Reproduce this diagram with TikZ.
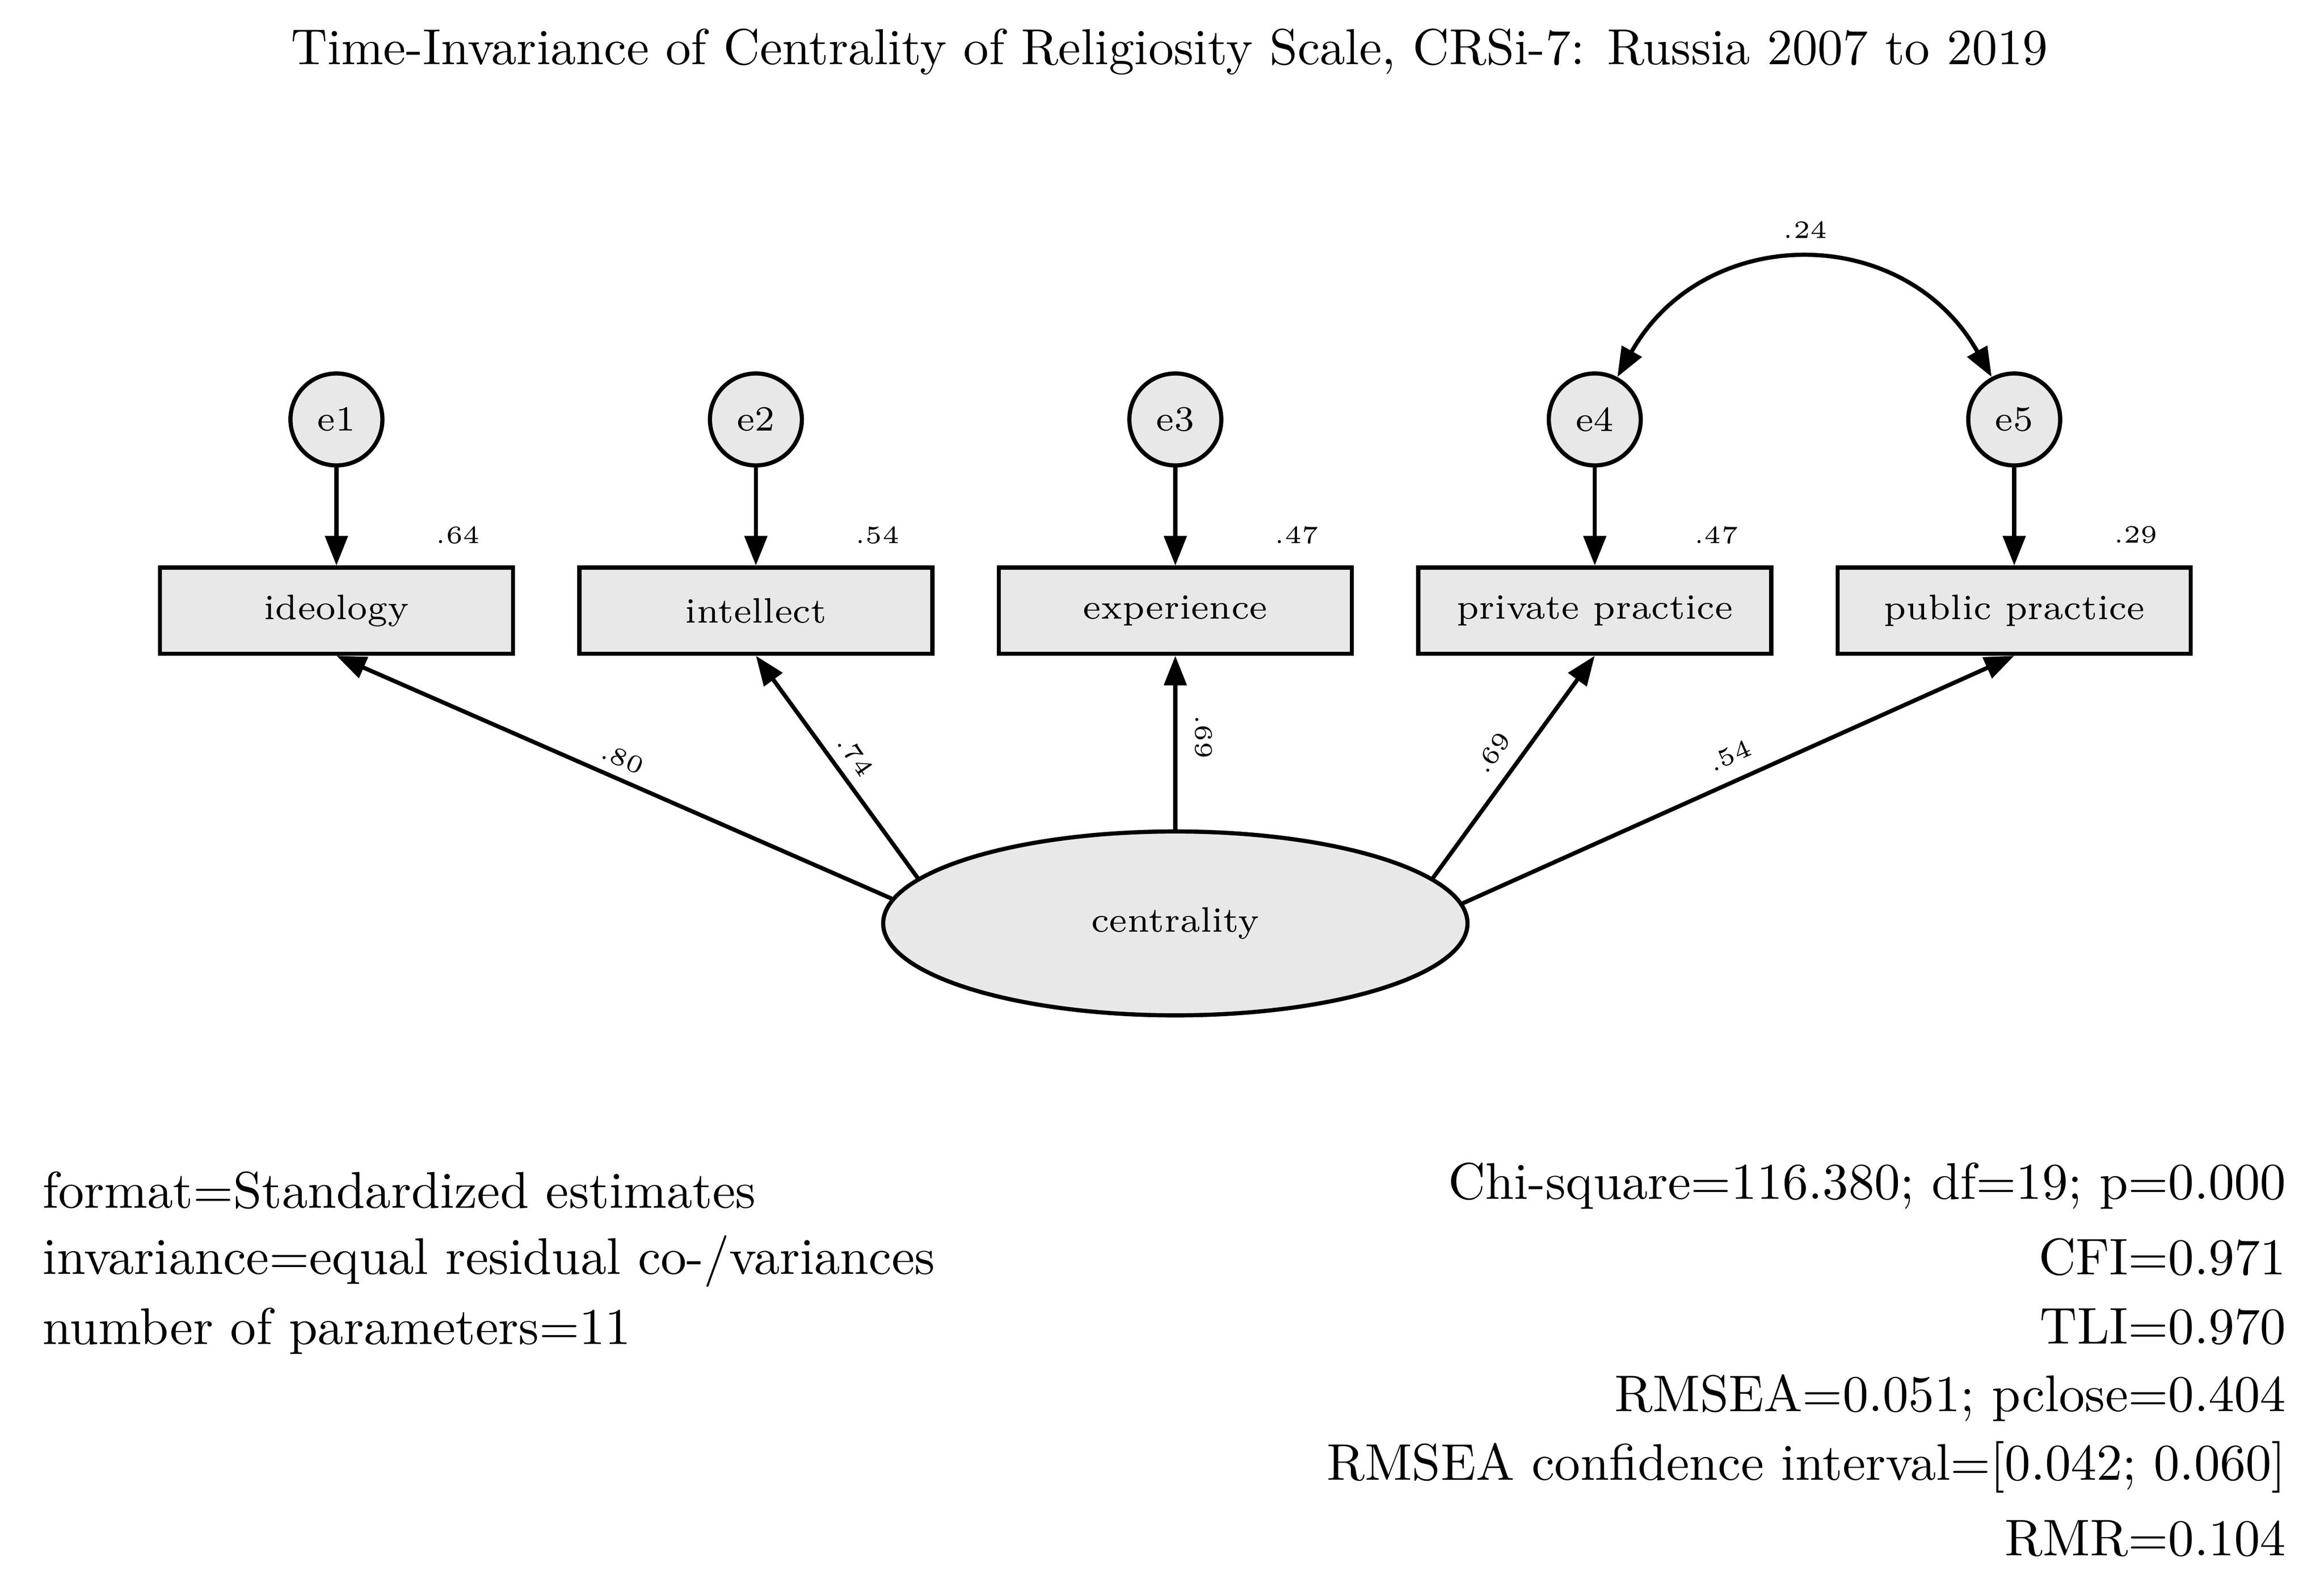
\documentclass[tikz,border=0pt]{standalone}
\usetikzlibrary{arrows.meta,shapes.geometric}
\definecolor{fillg}{HTML}{E8E8E8}
\begin{document}
\begin{tikzpicture}[x=0.01cm,y=-0.01cm,
  lw/.style={line width=0.8pt},
  box/.style={draw,lw,fill=fillg,minimum width=2.38cm,minimum height=0.58cm,inner sep=0pt,font=\fontsize{6.8}{8}\selectfont},
  err/.style={draw,circle,lw,fill=fillg,minimum size=0.62cm,inner sep=0pt,font=\fontsize{6.8}{8}\selectfont},
  arr/.style={lw,-{Triangle[length=0.2cm,width=0.15cm]}},
  sm/.style={font=\fontsize{4.8}{6}\selectfont,inner sep=0pt},
  big/.style={font=\fontsize{9.9}{12}\selectfont,inner sep=0pt}]
\useasboundingbox (0,0) rectangle (1568,1068);
\node[font=\fontsize{9.7}{12}\selectfont,inner sep=0pt] (title) at (789,35) {Time-Invariance of Centrality of Religiosity Scale, CRSi-7: Russia 2007 to 2019};
\node[draw,ellipse,lw,fill=fillg,minimum width=3.94cm,minimum height=1.24cm,font=\fontsize{6.8}{8}\selectfont] (c) at (793,623) {centrality};
\foreach \i/\x/\t/\v in {1/227/ideology/.64,2/510/intellect/.54,3/793/experience/.47,4/1076/private practice/.47,5/1359/public practice/.29}{
  \node[box] (b\i) at (\x,412) {\t};
  \node[err] (e\i) at (\x,283) {e\i};
  \draw[arr] (e\i) -- (b\i);
  \node[sm] (v\i) at (\x+82,361) {\v};
}
\draw[arr] (c.175.6) -- (b1.south);
\draw[arr] (c.170) -- (b2.south);
\draw[arr] (c.north) -- (b3.south);
\draw[arr] (c.10) -- (b4.south);
\draw[arr] (c.4.4) -- (b5.south);
\node[sm,rotate=-24] (l1) at (420,512) {.80};
\node[sm,rotate=-55] (l2) at (577,510) {.74};
\node[sm,rotate=-90] (l3) at (812,497) {.69};
\node[sm,rotate=55] (l4) at (1007,508) {.69};
\node[sm,rotate=24] (l5) at (1167,510) {.54};
\draw[lw,{Triangle[length=0.2cm,width=0.15cm]}-{Triangle[length=0.2cm,width=0.15cm]}] (e4.62) .. controls (1150,150) and (1285,150) .. (e5.118);
\node[sm] (cov) at (1218,155) {.24};
\node[big,anchor=west] (t1) at (28,803) {format=Standardized estimates};
\node[big,anchor=west] (t2) at (28,851) {invariance=equal residual co-/variances};
\node[big,anchor=west] (t3) at (28,898) {number of parameters=11};
\node[big,anchor=east] (r1) at (1543,800) {Chi-square=116.380; df=19; p=0.000};
\node[big,anchor=east] (r2) at (1543,848) {CFI=0.971};
\node[big,anchor=east] (r3) at (1543,895) {TLI=0.970};
\node[big,anchor=east] (r4) at (1543,943) {RMSEA=0.051; pclose=0.404};
\node[big,anchor=east] (r5) at (1543,990) {RMSEA confidence interval=[0.042; 0.060]};
\node[big,anchor=east] (r6) at (1543,1038) {RMR=0.104};
\end{tikzpicture}
\end{document}
